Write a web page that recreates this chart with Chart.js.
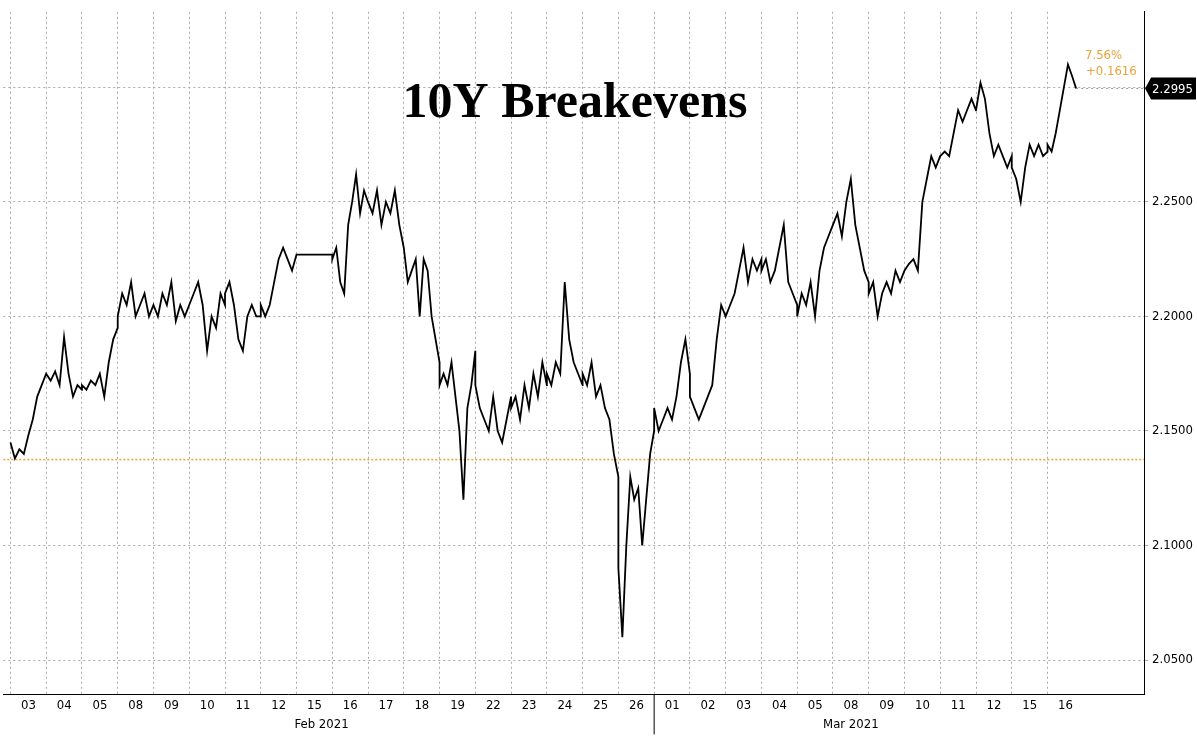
<!DOCTYPE html>
<html><head><meta charset="utf-8">
<script src="https://cdn.jsdelivr.net/npm/chart.js@4"></script>
<style>html,body{margin:0;background:#fff}#wrap{width:1197px;height:738px}</style>
</head><body><div id="wrap"><canvas id="ctx"></canvas></div>
<script>
// day labels (trading days)
const dayLabels = ['03','04','05','08','09','10','11','12','15','16','17','18','19','22','23','24','25','26',
  '01','02','03','04','05','08','09','10','11','12','15','16'];
const monthLabels = [{ text: 'Feb 2021', day: 8.7 }, { text: 'Mar 2021', day: 23.5 }];
const yTicks = [2.05, 2.10, 2.15, 2.20, 2.25, 2.30];
const refLevel = 2.1375;
const lastValue = 2.2995;

// intraday values, one list per day
const dayValues = [
  [2.145,2.138,2.142,2.14,2.148,2.155,2.165,2.17,2.175],
  [2.175,2.172,2.176,2.17,2.191,2.175,2.165,2.17,2.168],
  [2.17,2.168,2.172,2.17,2.175,2.165,2.18,2.19,2.195],
  [2.2,2.21,2.205,2.215,2.2,2.205,2.21,2.2,2.205],
  [2.205,2.2,2.21,2.205,2.215,2.198,2.205,2.2,2.205],
  [2.205,2.21,2.215,2.205,2.185,2.2,2.195,2.21,2.205],
  [2.21,2.215,2.205,2.19,2.185,2.2,2.205,2.2,2.2],
  [2.205,2.2,2.205,2.215,2.225,2.23,2.225,2.22,2.227],
  [2.227,2.227],
  [2.225,2.23,2.215,2.21,2.24,2.25,2.262,2.245,2.255,2.25],
  [2.25,2.245,2.255,2.24,2.25,2.245,2.255,2.24,2.23],
  [2.23,2.215,2.22,2.225,2.2,2.225,2.22,2.2,2.19,2.18],
  [2.17,2.175,2.17,2.18,2.165,2.15,2.12,2.16,2.17,2.185],
  [2.17,2.16,2.155,2.15,2.165,2.15,2.145,2.155,2.165],
  [2.16,2.165,2.155,2.17,2.16,2.175,2.165,2.18,2.17],
  [2.175,2.17,2.18,2.175,2.215,2.19,2.18,2.175,2.17],
  [2.175,2.17,2.18,2.165,2.17,2.16,2.155,2.14,2.13],
  [2.09,2.06,2.1,2.13,2.12,2.125,2.1,2.12,2.14,2.15],
  [2.16,2.15,2.155,2.16,2.155,2.165,2.18,2.19,2.175],
  [2.165,2.16,2.155,2.16,2.165,2.17,2.19,2.205,2.2],
  [2.2,2.205,2.21,2.22,2.23,2.215,2.225,2.22,2.225],
  [2.22,2.225,2.215,2.22,2.23,2.24,2.215,2.21,2.205],
  [2.2,2.21,2.205,2.215,2.2,2.22,2.23,2.235,2.24],
  [2.24,2.245,2.235,2.25,2.26,2.24,2.23,2.22,2.215],
  [2.21,2.215,2.2,2.21,2.215,2.21,2.22,2.215,2.22],
  [2.22,2.223,2.225,2.22,2.25,2.26,2.27,2.265,2.27],
  [2.27,2.272,2.27,2.28,2.29,2.285,2.29,2.295,2.29],
  [2.29,2.302,2.295,2.28,2.27,2.275,2.27,2.265,2.27],
  [2.265,2.26,2.25,2.265,2.275,2.27,2.275,2.27,2.272],
  [2.275,2.272,2.28,2.29,2.3,2.31,2.305,2.2995]
];

const points = [];
dayValues.forEach((vals, d) => {
  const span = d === dayValues.length - 1 ? 0.8 : 0.999;
  vals.forEach((v, j) => points.push({ x: d + span * j / (vals.length - 1), y: v }));
});
const xEnd = points[points.length - 1].x;

const overlay = {
  id: 'overlay',
  afterDraw(chart) {
    const c = chart.ctx, xs = chart.scales.x, ys = chart.scales.y, a = chart.chartArea;
    c.save();
    c.fillStyle = '#000';
    c.font = 'bold 50px "Liberation Serif"';
    c.textAlign = 'center'; c.textBaseline = 'middle';
    c.fillText('10Y Breakevens', 575, 104);
    // month labels and separator
    c.font = '13px "DejaVu Sans Condensed"';
    monthLabels.forEach(m => c.fillText(m.text, xs.getPixelForValue(m.day), a.bottom + 30));
    const sx = xs.getPixelForValue(18);
    c.strokeStyle = '#000'; c.lineWidth = 1;
    c.beginPath(); c.moveTo(sx, a.bottom); c.lineTo(sx, a.bottom + 40); c.stroke();
    // last value marker
    const ly = ys.getPixelForValue(lastValue);
    c.strokeStyle = '#999'; c.setLineDash([2, 3]);
    c.beginPath(); c.moveTo(xs.getPixelForValue(xEnd), ly); c.lineTo(a.right, ly); c.stroke();
    c.setLineDash([]);
    c.fillStyle = '#e8a33a'; c.font = '13px "DejaVu Sans Condensed"'; c.textAlign = 'left';
    c.fillText('7.56%', 1085, 56);
    c.fillText('+0.1616', 1086, 72);
    c.fillStyle = '#000';
    c.beginPath(); c.moveTo(a.right + 1, ly); c.lineTo(a.right + 7, ly - 11); c.lineTo(1196, ly - 11);
    c.lineTo(1196, ly + 11); c.lineTo(a.right + 7, ly + 11); c.closePath(); c.fill();
    c.fillStyle = '#fff'; c.font = '13px "DejaVu Sans Condensed"';
    c.fillText('2.2995', a.right + 8, ly + 1);
    c.restore();
  }
};

new Chart(document.getElementById('ctx'), {
  type: 'line',
  data: {
    datasets: [{
      data: points,
      borderColor: '#000',
      borderWidth: 1.8,
      pointRadius: 0,
      tension: 0
    }, {
      data: [{ x: -0.2, y: refLevel }, { x: 31.7, y: refLevel }],
      borderColor: '#e8a33a',
      borderWidth: 1.5,
      borderDash: [2, 2],
      pointRadius: 0
    }]
  },
  options: {
    responsive: true,
    maintainAspectRatio: false,
    animation: false,
    layout: { padding: { top: 8, bottom: 22, left: 0, right: 0 } },
    plugins: { legend: { display: false }, tooltip: { enabled: false } },
    scales: {
      x: {
        type: 'linear', min: -0.2, max: 31.7,
        afterBuildTicks: s => { s.ticks = dayLabels.map((_, i) => ({ value: i })); },
        ticks: {
          callback: (v) => dayLabels[v] ?? '',
          labelOffset: 18, maxRotation: 0, autoSkip: false,
          color: '#000', font: { family: 'DejaVu Sans Condensed', size: 13 }
        },
        grid: { color: '#aaa', drawTicks: false },
        border: { color: '#000', dash: [2, 3] }
      },
      y: {
        position: 'right', min: 2.035, max: 2.333,
        afterBuildTicks: s => { s.ticks = yTicks.map(v => ({ value: v })); },
        ticks: {
          callback: v => v.toFixed(4),
          color: '#000', font: { family: 'DejaVu Sans Condensed', size: 13 }, padding: 4
        },
        grid: { color: '#aaa', tickLength: 4 },
        border: { color: '#000', dash: [2, 3] }
      }
    }
  },
  plugins: [overlay]
});
</script></body></html>
